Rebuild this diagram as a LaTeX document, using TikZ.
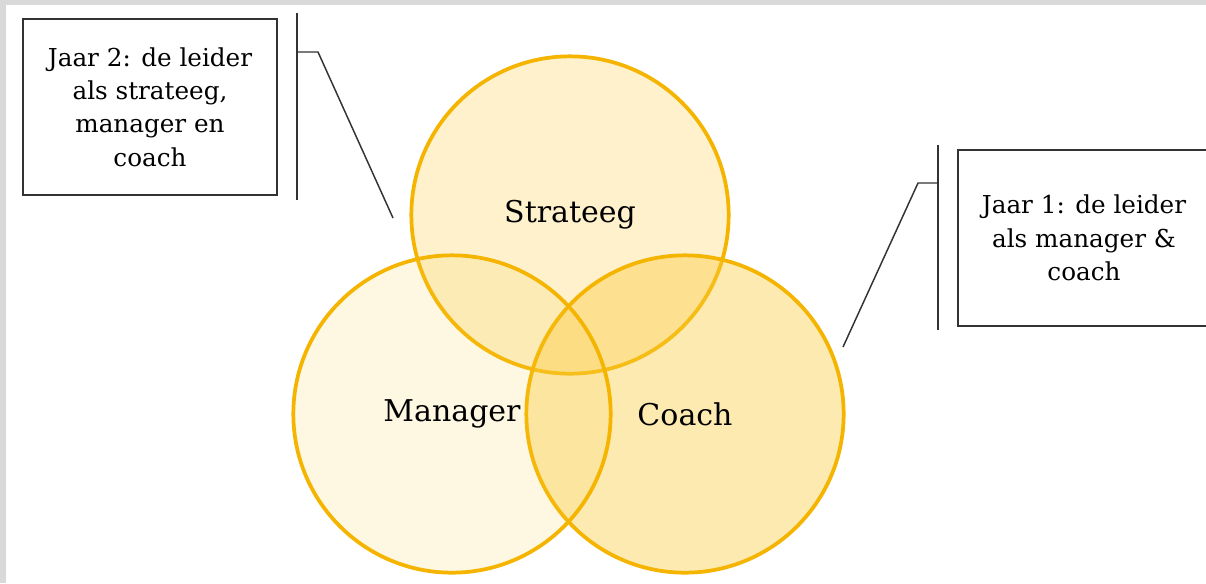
\documentclass[tikz,border=0pt]{standalone}
\usepackage{fontspec}
\setmainfont{DejaVu Serif}
\definecolor{goud}{HTML}{F4B400}
\definecolor{geel}{HTML}{FCCB3A}
\definecolor{rand}{HTML}{D9D9D9}

\begin{document}
\begin{tikzpicture}[
        x=0.75pt, y=-0.75pt,
        rol/.style={
            circle,
            draw=goud,
            line width=2.8pt,
            fill=geel,
            minimum size=238pt,
            inner sep=0pt,
            font=\fontsize{22.5}{26}\selectfont
        },
        uitleg/.style={
            draw=black!80,
            line width=1.1pt,
            align=center,
            inner sep=0pt,
            font=\fontsize{18.5}{25}\selectfont
        },
        lijn/.style={draw=black!80, line width=1.1pt}
    ]
    \fill[rand] (0,0) rectangle (1206,583);
    \fill[white] (6,5) rectangle (1206,583);
    \useasboundingbox (0,0) rectangle (1206,583);

    % de drie rollen
    \node[rol, fill opacity=0.26, text opacity=1] (strateeg) at (570,215) {Strateeg};
    \node[rol, fill opacity=0.40, text opacity=1] (coach) at (685,414) {Coach};
    \node[rol, fill opacity=0.15, text opacity=1] (manager) at (452,414) {Manager};

    % jaar 2
    \node[uitleg, minimum width=190.5pt, minimum height=132pt] (jaar2) at (150,107)
        {Jaar 2: de leider\\als strateeg,\\manager en\\coach};
    \coordinate (b2a) at (297,13);
    \coordinate (b2b) at (297,200);
    \coordinate (k2) at (297,52);
    \coordinate (p2) at (393,218);
    \draw[lijn] (b2a) -- (b2b);
    \draw[lijn] (k2) -- ++(21,0) -- (p2);

    % jaar 1
    \node[uitleg, minimum width=189pt, minimum height=132pt] (jaar1) at (1084,238)
        {Jaar 1: de leider\\als manager \&\\coach};
    \coordinate (b1a) at (938,145);
    \coordinate (b1b) at (938,330);
    \coordinate (k1) at (938,183);
    \coordinate (p1) at (843,347);
    \draw[lijn] (b1a) -- (b1b);
    \draw[lijn] (k1) -- ++(-20,0) -- (p1);
\end{tikzpicture}
\end{document}
